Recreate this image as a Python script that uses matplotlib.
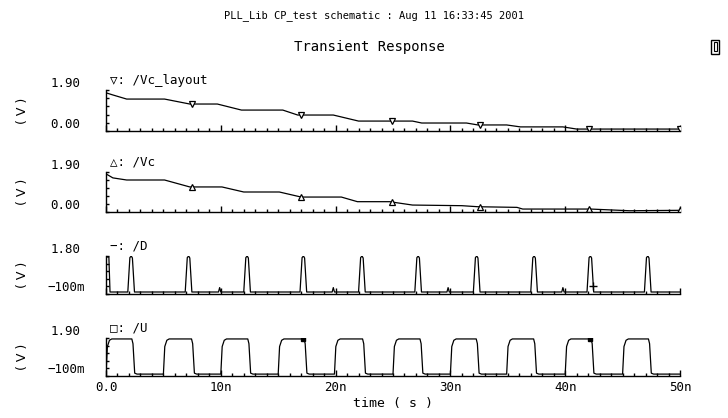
#!/usr/bin/env python3
import matplotlib

matplotlib.use("Agg")
import matplotlib.pyplot as plt
import numpy as np
from matplotlib.patches import Rectangle
from matplotlib.ticker import MultipleLocator

plt.rcParams["font.family"] = ["DejaVu Sans Mono", "DejaVu Sans"]

# time in ns, voltage in V
vcl_t = [0.0, 0.6, 1.8, 5.1, 7.3, 9.7, 11.8, 15.4, 16.7, 19.8, 22.0, 26.7,
         27.5, 31.4, 32.4, 34.9, 36.1, 39.8, 41.0, 50.0]
vcl_v = [1.77, 1.67, 1.48, 1.48, 1.25, 1.25, 0.97, 0.97, 0.74, 0.74, 0.46, 0.46,
         0.37, 0.37, 0.28, 0.28, 0.19, 0.19, 0.09, 0.09]

vc_t = [0.0, 0.6, 1.8, 5.1, 7.3, 10.1, 12.0, 15.1, 17.0, 20.5, 21.9, 24.7,
        26.7, 31.0, 32.4, 35.8, 36.3, 42.2, 45.6, 50.0]
vc_v = [1.81, 1.62, 1.52, 1.52, 1.19, 1.19, 0.95, 0.95, 0.71, 0.71, 0.49, 0.49,
        0.33, 0.30, 0.25, 0.22, 0.14, 0.14, 0.06, 0.08]

marker_t = [7.5, 17.0, 24.9, 32.6, 42.1, 50.0]
d_marker_t = [42.45]
u_marker_t = [17.2, 42.2]

d_peaks = [2.2, 7.2, 12.3, 17.2, 22.3, 27.2, 32.3, 37.3, 42.2, 47.2]
d_glitches = [9.9, 19.8, 29.8, 39.8]
d_high = 1.8

u_rise = [0.0, 5.0, 10.0, 15.0, 19.9, 25.0, 30.0, 34.9, 40.0, 45.0]
u_fall = [2.3, 7.5, 12.4, 17.3, 22.4, 27.4, 32.3, 37.3, 42.3, 47.3]
u_high = 1.85

x_ticks = [0, 10, 20, 30, 40, 50]
x_tick_labels = ["0.0", "10n", "20n", "30n", "40n", "50n"]

# build the digital waveforms from the edge times
d_pts = [(0.0, 1.75), (0.25, 1.75), (0.35, 0.0), (50.0, 0.0)]
for p in d_peaks:
    d_pts += [(p - 0.3, 0.0), (p - 0.12, d_high - 0.08), (p, d_high),
              (p + 0.1, d_high - 0.1), (p + 0.28, 0.0)]
for g in d_glitches:
    d_pts += [(g - 0.1, 0.0), (g, 0.22), (g + 0.1, 0.0)]
d_pts.sort()
d_t, d_v = zip(*d_pts)

u_pts = [(50.0, 0.0)]
for r, f in zip(u_rise, u_fall):
    u_pts += [(r, 0.0), (r + 0.12, 1.45), (r + 0.3, 1.78), (r + 0.5, u_high),
              (f - 0.05, u_high), (f + 0.05, 1.6), (f + 0.2, 0.05), (f + 0.4, 0.0)]
u_pts.sort()
u_t, u_v = zip(*u_pts)

W, H = 728, 418
fig = plt.figure(figsize=(W / 100, H / 100), dpi=100)


def panel(top, bottom):
    return fig.add_axes([106 / W, 1 - bottom / H, 574 / W, (bottom - top) / H])


def setup(ax, ylo, yhi, lo_lab, hi_lab, name):
    ax.set_xlim(0, 50)
    ax.set_ylim(ylo, yhi)
    for s in ("top", "right"):
        ax.spines[s].set_visible(False)
    for s in ("left", "bottom"):
        ax.spines[s].set_linewidth(1.0)
    ax.set_xticks(x_ticks, labels=x_tick_labels)
    ax.xaxis.set_minor_locator(MultipleLocator(1))
    ax.tick_params(axis="x", which="major", direction="in", length=4.5, width=1,
                   labelsize=9, pad=3.5)
    ax.tick_params(axis="x", which="minor", direction="in", length=2, width=1)
    ax.set_yticks(np.linspace(ylo, yhi, 6), labels=[lo_lab, "", "", "", "", hi_lab])
    ax.tick_params(axis="y", direction="in", length=2, width=1, labelsize=9, pad=29)
    for lbl in ax.get_yticklabels():
        lbl.set_ha("center")
        lbl.set_va("bottom")
    ax.annotate(name, xy=(0, 1), xycoords="axes fraction", xytext=(3, 7),
                textcoords="offset points", va="center", fontsize=9)
    ax.set_ylabel("( V )", family="DejaVu Sans", fontsize=9)
    ax.yaxis.set_label_coords(-77 / 574, 0.5)


ax1 = panel(90, 131)
ax1.plot(vcl_t, vcl_v, color="black", lw=0.9)
ax1.plot(marker_t, np.interp(marker_t, vcl_t, vcl_v), "v", ms=4, mfc="white",
         mec="black", mew=0.9)
setup(ax1, 0, 1.9, "0.00", "1.90", "▽: /Vc_layout")

ax2 = panel(172, 212)
ax2.plot(vc_t, vc_v, color="black", lw=0.9)
ax2.plot(marker_t, np.interp(marker_t, vc_t, vc_v), "^", ms=4, mfc="white",
         mec="black", mew=0.9)
setup(ax2, 0, 1.9, "0.00", "1.90", "△: /Vc")

ax3 = panel(256, 294)
ax3.plot(d_t, d_v, color="black", lw=0.9)
ax3.plot(d_marker_t, np.interp(d_marker_t, d_t, d_v), "+", ms=6, color="black",
         mew=1)
setup(ax3, -0.1, 1.8, "−100m", "1.80", "−: /D")

ax4 = panel(338, 376)
ax4.plot(u_t, u_v, color="black", lw=0.9)
ax4.plot(u_marker_t, np.interp(u_marker_t, u_t, u_v), "s", ms=3, color="black")
setup(ax4, -0.1, 1.9, "−100m", "1.90", "□: /U")

for ax in (ax1, ax2, ax3):
    ax.tick_params(axis="x", labelbottom=False)

ax4.set_xlabel("time ( s )", fontsize=9.5, labelpad=2)

fig.text(374 / W, 1 - 16 / H, "PLL_Lib CP_test schematic : Aug 11 16:33:45 2001",
         ha="center", va="center", fontsize=7.5)
fig.text(369 / W, 1 - 47 / H, "Transient Response", ha="center", va="center",
         fontsize=10)
fig.add_artist(Rectangle((711 / W, 1 - 54 / H), 8 / W, 14 / H, fill=False,
                         lw=1, color="black", transform=fig.transFigure))
fig.add_artist(Rectangle((713.5 / W, 1 - 51 / H), 3 / W, 9 / H, fill=False,
                         lw=0.8, color="black", transform=fig.transFigure))

fig.savefig("out.png", dpi=100)
